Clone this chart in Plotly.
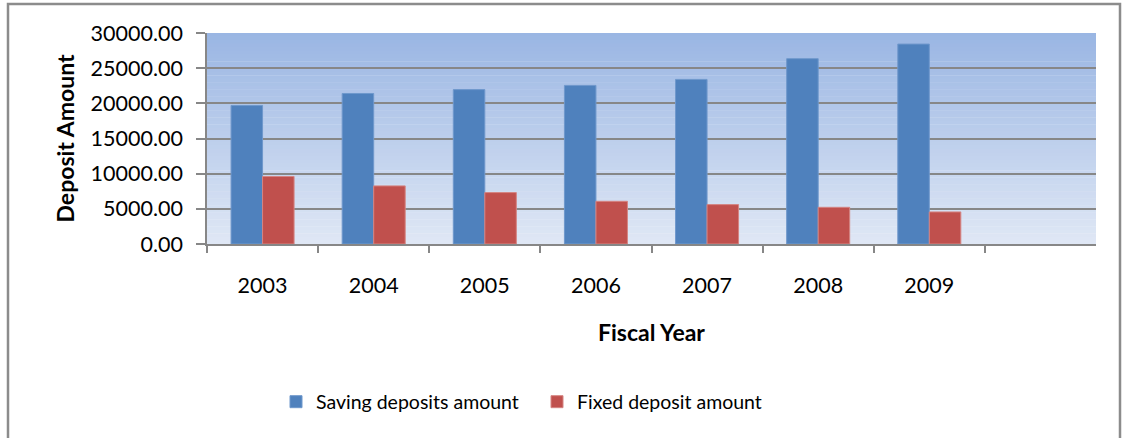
import plotly.graph_objects as go

years = ["2003", "2004", "2005", "2006", "2007", "2008", "2009"]
saving = [19700, 21400, 21950, 22550, 23400, 26350, 28430]
fixed = [9600, 8260, 7310, 6070, 5600, 5215, 4560]
y_ticks = [0, 5000, 10000, 15000, 20000, 25000, 30000]

FONT = "Lato"
GRAY = "#878787"

fig = go.Figure()
fig.add_trace(go.Bar(
    x=years, y=saving, name="Saving deposits amount",
    marker=dict(color="#4F81BD", line=dict(color="#6F98CC", width=1)),
))
fig.add_trace(go.Bar(
    x=years, y=fixed, name="Fixed deposit amount",
    marker=dict(color="#C0504D", line=dict(color="#D58482", width=1)),
))

# gradient plot background
n = 60
top = (154, 182, 227)
bot = (223, 231, 245)
shapes = []
for i in range(n):
    t = i / (n - 1)
    c = tuple(round(top[k] + (bot[k] - top[k]) * t) for k in range(3))
    shapes.append(dict(
        type="rect", xref="x domain", yref="y domain",
        x0=0, x1=1, y1=1 - i / n, y0=1 - (i + 1) / n - 0.002,
        fillcolor="rgb(%d,%d,%d)" % c, line=dict(width=0), layer="below",
    ))
# outer chart border
L, R, T, B = 207, 28, 33, 194
W, H = 1124 - L - R, 438 - T - B
shapes.append(dict(
    type="rect", xref="paper", yref="paper",
    x0=(8 - L) / W, x1=(1120 - L) / W,
    y0=(T + H - 445) / H, y1=(T + H - 4) / H,
    line=dict(color="#8C8C8C", width=2.5), fillcolor="rgba(0,0,0,0)", layer="below",
))

fig.update_layout(
    width=1124, height=438,
    margin=dict(l=L, r=R, t=T, b=B),
    paper_bgcolor="white", plot_bgcolor="rgba(0,0,0,0)",
    barmode="group", bargap=0.433, bargroupgap=0,
    font=dict(family=FONT, color="black", size=20),
    shapes=shapes,
    showlegend=True,
    legend=dict(
        orientation="h", x=(276 - L) / W, xanchor="left",
        y=(T + H - 402) / H, yanchor="middle",
        font=dict(family=FONT, size=19.5), bgcolor="rgba(0,0,0,0)",
        traceorder="normal", entrywidth=216,
    ),
    xaxis=dict(
        type="category", categoryorder="array", categoryarray=years,
        range=[-0.5, 7.5], tickson="boundaries",
        ticks="outside", ticklen=7, tickwidth=1.5, tickcolor=GRAY,
        showline=True, linecolor=GRAY, linewidth=1.5,
        showgrid=False, ticklabelstandoff=21,
        tickfont=dict(family=FONT, size=21.5),
        title=dict(text="Fiscal Year", standoff=28,
                   font=dict(family=FONT, size=23, weight=700)),
    ),
    yaxis=dict(
        range=[0, 30000], tickvals=y_ticks, tickformat=".2f",
        ticks="outside", ticklen=9, tickwidth=1.5, tickcolor=GRAY,
        showline=True, linecolor=GRAY, linewidth=1.5,
        showgrid=True, gridcolor=GRAY, gridwidth=1.5,
        zeroline=False, ticklabelstandoff=9,
        tickfont=dict(family=FONT, size=21.5),
        title=dict(text="Deposit Amount", standoff=10,
                   font=dict(family=FONT, size=23, weight=700)),
    ),
)

fig.write_html("out.html", config={"displayModeBar": False},
               post_script="document.body.style.margin='0';")
